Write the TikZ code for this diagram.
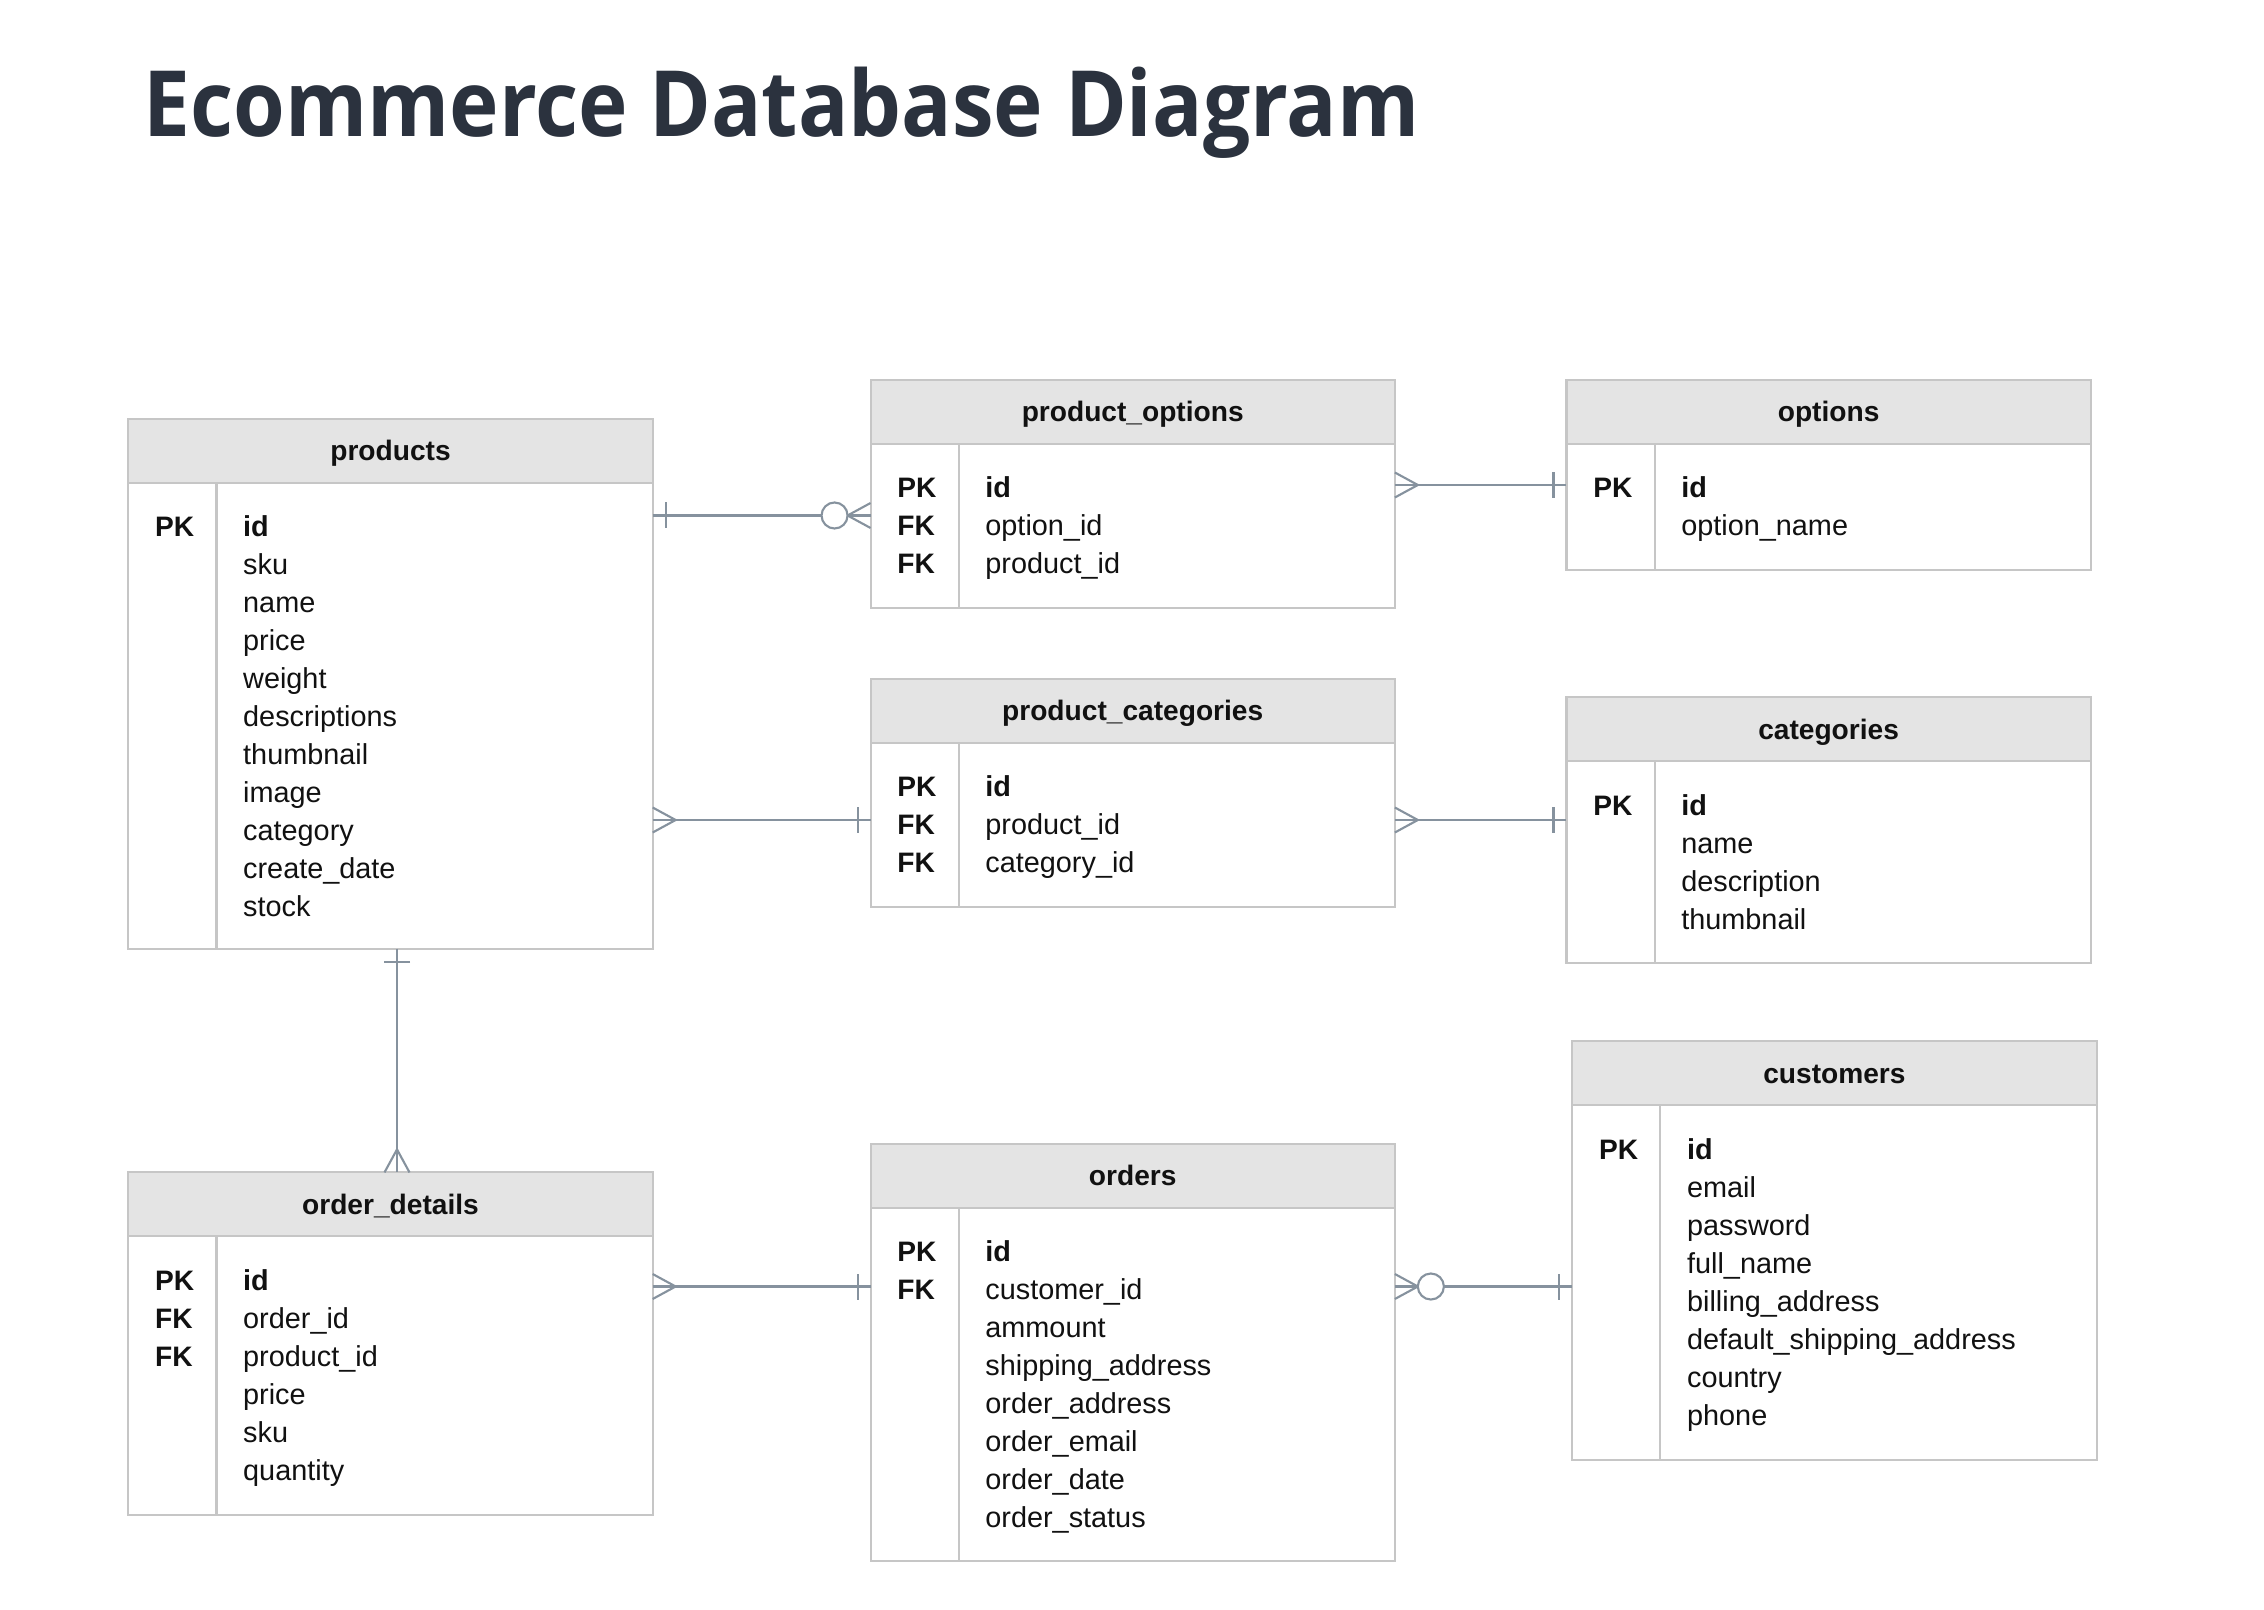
\documentclass[tikz,border=0pt]{standalone}
\usepackage{fontspec}
\setmainfont{Liberation Sans}
\newfontfamily\titlefont{Open Sans}[FakeStretch=0.915]
\usetikzlibrary{calc}
\definecolor{titlecol}{HTML}{2B323E}
\definecolor{bordercol}{HTML}{C6C6C6}
\definecolor{hdrcol}{HTML}{E4E4E4}
\definecolor{conncol}{HTML}{86929E}
\definecolor{txtcol}{HTML}{111111}
\tikzset{
  tblbox/.style={minimum width=5.24cm, inner sep=0pt, outer sep=0pt},
  tblline/.style={draw=bordercol, line width=0.6pt},
  conn/.style={draw=conncol, line width=0.6pt},
  hdrtext/.style={anchor=base, inner sep=0pt, text=txtcol, font=\fontsize{8}{9.6}\selectfont\bfseries},
  keytext/.style={anchor=base west, inner sep=0pt, text=txtcol, font=\fontsize{8}{9.6}\selectfont\bfseries},
  fieldtext/.style={anchor=base west, inner sep=0pt, text=txtcol, font=\fontsize{8.2}{9.8}\selectfont},
  erone/.pic={\draw[conn] (13,-13) -- (13,13);},
  ercrow/.pic={\draw[conn] (0,-12.5) -- (23,0) -- (0,12.5);},
  erzcrow/.pic={\draw[conn] (0,-12.5) -- (23,0) -- (0,12.5); \draw[conn, fill=white] (36,0) circle[radius=0.13cm];}
}
% #1 name #2 left #3 top #4 bottom #5 title #6 keys #7 fields
\newcommand\erdtable[7]{%
  \node[tblbox, minimum height={((#4)-(#3))*0.01cm}] (#1) at ({#2+262},{((#3)+(#4))/2}) {};
  \fill[hdrcol] (#1.north west) rectangle ({#2+524},{#3+64});
  \draw[tblline] (#2,{#3+64}) -- ({#2+524},{#3+64});
  \draw[tblline] ({#2+88},{#3+64}) -- ({#2+88},#4);
  \draw[tblline] (#1.north west) rectangle (#1.south east);
  \node[hdrtext] at ({#2+262},{#3+42}) {#5};
  \foreach \k [count=\i from 0] in {#6} \node[keytext] at ({#2+26},{#3+118+38*\i}) {\k};
  \foreach \f [count=\i from 0] in {#7} \node[fieldtext] at ({#2+114},{#3+118+38*\i}) {\f};
}
\begin{document}
\begin{tikzpicture}[x=0.01cm, y=-0.01cm]
\fill[white] (0,0) rectangle (2264,1610);
\useasboundingbox (0,0) rectangle (2264,1610);

\node[anchor=base west, inner sep=0pt, text=titlecol, font=\titlefont\bfseries\fontsize{26}{30}\selectfont] (title) at (143,137) {Ecommerce Database Diagram};

\erdtable{products}{128.5}{418.7}{948.6}{products}{PK}{\textbf{id},sku,name,price,weight,descriptions,thumbnail,image,category,create\_date,stock}
\erdtable{po}{870.7}{379.7}{607.9}{product\_options}{PK,FK,FK}{\textbf{id},option\_id,product\_id}
\erdtable{options}{1566.6}{379.7}{570.3}{options}{PK}{\textbf{id},option\_name}
\erdtable{pc}{870.7}{678.6}{906.8}{product\_categories}{PK,FK,FK}{\textbf{id},product\_id,category\_id}
\erdtable{categories}{1566.6}{697.4}{963.1}{categories}{PK}{\textbf{id},name,description,thumbnail}
\erdtable{customers}{1572.4}{1041}{1459.8}{customers}{PK}{\textbf{id},email,password,full\_name,billing\_address,default\_shipping\_address,country,phone}
\erdtable{od}{128.5}{1172.4}{1514.6}{order\_details}{PK,FK,FK}{\textbf{id},order\_id,product\_id,price,sku,quantity}
\erdtable{orders}{870.7}{1143.6}{1560.9}{orders}{PK,FK}{\textbf{id},customer\_id,ammount,shipping\_address,order\_address,order\_email,order\_date,order\_status}

\coordinate (c1) at (0,515.5);
\coordinate (c2) at (0,485);
\coordinate (c3) at (0,820);
\coordinate (c5) at (397,0);
\coordinate (c6) at (0,1286.5);

% products -- product_options
\draw[conn] (products.east |- c1) -- (po.west |- c1);
\pic at (products.east |- c1) {erone};
\pic[rotate=180] at (po.west |- c1) {erzcrow};
% product_options -- options
\draw[conn] (po.east |- c2) -- (options.west |- c2);
\pic at (po.east |- c2) {ercrow};
\pic[rotate=180] at (options.west |- c2) {erone};
% products -- product_categories
\draw[conn] (products.east |- c3) -- (pc.west |- c3);
\pic at (products.east |- c3) {ercrow};
\pic[rotate=180] at (pc.west |- c3) {erone};
% product_categories -- categories
\draw[conn] (pc.east |- c3) -- (categories.west |- c3);
\pic at (pc.east |- c3) {ercrow};
\pic[rotate=180] at (categories.west |- c3) {erone};
% products -- order_details
\draw[conn] (c5 |- products.south) -- (c5 |- od.north);
\pic[rotate=-90] at (c5 |- products.south) {erone};
\pic[rotate=90] at (c5 |- od.north) {ercrow};
% order_details -- orders
\draw[conn] (od.east |- c6) -- (orders.west |- c6);
\pic at (od.east |- c6) {ercrow};
\pic[rotate=180] at (orders.west |- c6) {erone};
% orders -- customers
\draw[conn] (orders.east |- c6) -- (customers.west |- c6);
\pic at (orders.east |- c6) {erzcrow};
\pic[rotate=180] at (customers.west |- c6) {erone};
\end{tikzpicture}
\end{document}
